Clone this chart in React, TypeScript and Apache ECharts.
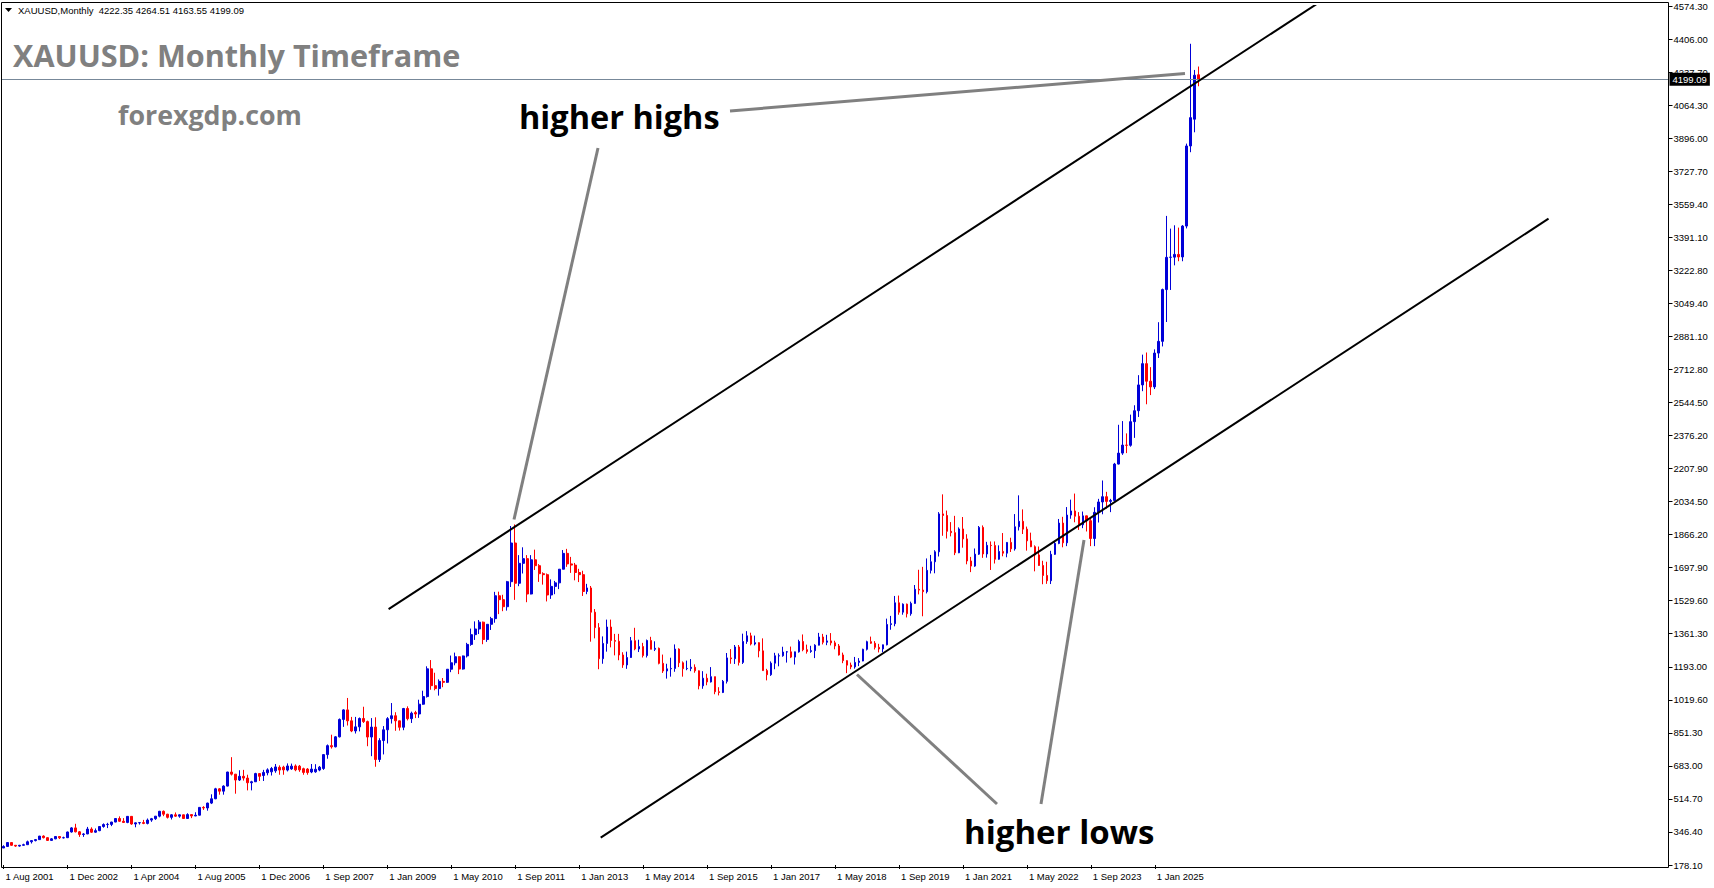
import React, { useEffect, useRef } from "react";
import * as echarts from "echarts";

// ---- axis tick labels ----
const xTickLabels = [
  "1 Aug 2001", "1 Dec 2002", "1 Apr 2004", "1 Aug 2005", "1 Dec 2006", "1 Sep 2007",
  "1 Jan 2009", "1 May 2010", "1 Sep 2011", "1 Jan 2013", "1 May 2014", "1 Sep 2015",
  "1 Jan 2017", "1 May 2018", "1 Sep 2019", "1 Jan 2021", "1 May 2022", "1 Sep 2023", "1 Jan 2025",
];
const X_LABEL_STEP = 16;
const yTickLabels = [
  "178.10", "346.40", "514.70", "683.00", "851.30", "1019.60", "1193.00", "1361.30", "1529.60",
  "1697.90", "1866.20", "2034.50", "2207.90", "2376.20", "2544.50", "2712.80", "2881.10", "3049.40",
  "3222.80", "3391.10", "3559.40", "3727.70", "3896.00", "4064.30", "4237.70", "4406.00", "4574.30",
];
const Y_MIN = 178.1;
const Y_MAX = 4574.3;
const TOTAL_SLOTS = 417; // bars + empty space to the right

// ---- monthly candles [open, high, low, close] ----
const candles2001to2006 = [
  [265, 279, 265, 273], [273, 294, 271, 293], [293, 293, 276, 279], [279, 280, 271, 275], [275, 281, 272, 279],
  [279, 287, 277, 282], [282, 303, 281, 297], [297, 305, 288, 303], [303, 311, 299, 308], [308, 327, 307, 326], [326, 330, 314, 318],
  [318, 320, 301, 304], [304, 316, 302, 312], [312, 325, 310, 324], [324, 324, 311, 317], [317, 323, 314, 318], [318, 349, 316, 347],
  [347, 372, 344, 368], [368, 389, 345, 348], [348, 352, 322, 334], [334, 341, 322, 337], [337, 373, 336, 362], [362, 371, 342, 346],
  [346, 365, 343, 354], [354, 376, 351, 375], [375, 391, 369, 385], [385, 394, 367, 386], [386, 399, 377, 398], [398, 417, 397, 416],
  [416, 427, 399, 402], [402, 418, 393, 396], [396, 428, 392, 427], [427, 428, 384, 388], [388, 396, 371, 394], [394, 398, 385, 395],
  [395, 409, 387, 391], [391, 416, 386, 408], [408, 419, 399, 415], [415, 429, 409, 428], [428, 455, 422, 453], [453, 457, 428, 438],
  [438, 440, 416, 422], [422, 439, 411, 435], [435, 447, 424, 428], [428, 437, 420, 435], [435, 436, 414, 416], [416, 443, 414, 436],
  [436, 438, 418, 429], [429, 448, 428, 433], [433, 474, 432, 473], [473, 479, 460, 470], [470, 497, 456, 495], [495, 540, 490, 517],
  [517, 573, 515, 568], [568, 572, 538, 556], [556, 586, 538, 582], [582, 655, 580, 654], [654, 730, 636, 643], [643, 644, 543, 613],
  [613, 663, 608, 632], [632, 665, 610, 623], [623, 640, 560, 599], [599, 609, 560, 604], [604, 650, 603, 646], [646, 649, 608, 632],
];
const candles2007a = [
  [636, 665, 608, 652], [650, 673, 637, 665], [655, 680, 636, 672], [660, 695, 650, 680], [678, 688, 640, 664],
  [679, 686, 640, 665], [664, 698, 657, 685], [670, 697, 665, 684], [685, 693, 658, 665], [684, 690, 655, 665],
  [671, 676, 640, 652], [669, 674, 640, 651], [654, 695, 648, 669], [655, 694, 650, 668], [664, 685, 658, 679],
];
const candles2007to2015 = [
  [672, 745, 665, 743], [743, 795, 722, 789], [789, 845, 774, 783], [783, 838, 780, 834],
  [834, 928, 831, 923], [923, 975, 885, 972], [972, 1033, 892, 916], [916, 936, 858, 864], [864, 936, 851, 885], [885, 933, 862, 928],
  [928, 988, 905, 912], [912, 917, 786, 833], [833, 930, 735, 884], [884, 934, 681, 718], [718, 827, 705, 815], [815, 889, 744, 870],
  [870, 935, 800, 927], [927, 1007, 902, 942], [942, 960, 865, 916], [916, 917, 866, 883], [883, 982, 868, 979], [979, 990, 918, 927],
  [927, 963, 905, 955], [958, 967, 930, 951], [951, 1024, 931, 1001], [1001, 1070, 998, 1040], [1040, 1195, 1035, 1182], [1182, 1227, 1075, 1096],
  [1096, 1162, 1072, 1081], [1081, 1128, 1045, 1118], [1118, 1135, 1088, 1113], [1113, 1181, 1110, 1180], [1180, 1250, 1165, 1213], [1213, 1265, 1200, 1244],
  [1244, 1246, 1155, 1181], [1181, 1250, 1178, 1248], [1248, 1315, 1240, 1307], [1307, 1388, 1300, 1357], [1357, 1425, 1330, 1386], [1386, 1432, 1360, 1421],
  [1421, 1424, 1308, 1332], [1332, 1411, 1320, 1410], [1410, 1448, 1381, 1439], [1439, 1576, 1418, 1556], [1556, 1577, 1462, 1536], [1536, 1561, 1477, 1500],
  [1500, 1632, 1480, 1628], [1628, 1913, 1601, 1826], [1826, 1921, 1535, 1620], [1620, 1764, 1605, 1722], [1722, 1804, 1670, 1746], [1746, 1764, 1523, 1565],
  [1565, 1764, 1563, 1740], [1740, 1792, 1688, 1710], [1710, 1718, 1627, 1669], [1669, 1676, 1613, 1664], [1664, 1670, 1527, 1560], [1560, 1640, 1540, 1604],
  [1604, 1632, 1564, 1622], [1622, 1693, 1590, 1692], [1692, 1790, 1691, 1773], [1773, 1796, 1704, 1719], [1719, 1755, 1673, 1713], [1713, 1724, 1635, 1675],
  [1675, 1694, 1626, 1664], [1664, 1684, 1555, 1578], [1578, 1617, 1564, 1596], [1596, 1606, 1321, 1472], [1472, 1488, 1338, 1393], [1393, 1416, 1180, 1234],
  [1234, 1348, 1208, 1312], [1312, 1434, 1270, 1396], [1396, 1434, 1292, 1327], [1327, 1361, 1251, 1323], [1323, 1361, 1226, 1253], [1253, 1267, 1187, 1202],
  [1202, 1270, 1182, 1240], [1240, 1345, 1238, 1326], [1326, 1392, 1277, 1284], [1284, 1331, 1268, 1296], [1296, 1315, 1240, 1250], [1250, 1332, 1240, 1327],
  [1327, 1346, 1282, 1282], [1282, 1323, 1273, 1287], [1287, 1291, 1205, 1210], [1210, 1255, 1161, 1171], [1171, 1208, 1132, 1182], [1182, 1239, 1142, 1184],
  [1184, 1307, 1167, 1283], [1283, 1287, 1191, 1213], [1213, 1220, 1142, 1183], [1183, 1224, 1175, 1184], [1184, 1232, 1170, 1190], [1190, 1205, 1162, 1172],
  [1172, 1174, 1077, 1095], [1095, 1170, 1080, 1134], [1134, 1157, 1098, 1115], [1115, 1191, 1112, 1142], [1142, 1142, 1052, 1065], [1065, 1088, 1046, 1061],
];
const candles2016to2025 = [
  [1061, 1125, 1058, 1118], [1118, 1263, 1107, 1238], [1238, 1283, 1208, 1234], [1234, 1304, 1207, 1294], [1294, 1304, 1199, 1215], [1215, 1362, 1207, 1322],
  [1322, 1375, 1310, 1351], [1351, 1367, 1302, 1309], [1309, 1352, 1302, 1316], [1316, 1318, 1241, 1274], [1274, 1338, 1171, 1173], [1173, 1182, 1123, 1152],
  [1152, 1220, 1146, 1211], [1211, 1264, 1180, 1249], [1248, 1261, 1195, 1249], [1249, 1295, 1244, 1268], [1268, 1273, 1214, 1269], [1269, 1296, 1237, 1242],
  [1242, 1270, 1204, 1269], [1269, 1331, 1265, 1322], [1322, 1358, 1272, 1280], [1280, 1306, 1260, 1271], [1271, 1300, 1264, 1275], [1275, 1308, 1237, 1303],
  [1303, 1366, 1302, 1345], [1345, 1361, 1307, 1318], [1318, 1356, 1303, 1325], [1325, 1365, 1302, 1315], [1315, 1326, 1282, 1299], [1299, 1309, 1250, 1253],
  [1253, 1265, 1211, 1224], [1224, 1226, 1160, 1201], [1201, 1214, 1180, 1192], [1192, 1243, 1183, 1215], [1215, 1237, 1196, 1222], [1222, 1285, 1221, 1282],
  [1282, 1326, 1276, 1321], [1321, 1347, 1310, 1313], [1313, 1324, 1281, 1292], [1292, 1310, 1266, 1284], [1284, 1306, 1267, 1305], [1305, 1439, 1302, 1409],
  [1409, 1453, 1382, 1413], [1413, 1555, 1400, 1520], [1520, 1557, 1459, 1472], [1472, 1517, 1459, 1513], [1513, 1516, 1445, 1464], [1464, 1526, 1454, 1517],
  [1517, 1611, 1515, 1589], [1589, 1689, 1563, 1585], [1585, 1704, 1451, 1577], [1577, 1747, 1568, 1686], [1686, 1765, 1670, 1730], [1730, 1789, 1671, 1781],
  [1781, 1984, 1757, 1975], [1975, 2075, 1863, 1967], [1967, 1992, 1849, 1886], [1886, 1933, 1860, 1879], [1879, 1965, 1764, 1776], [1776, 1906, 1774, 1898],
  [1898, 1959, 1802, 1847], [1847, 1871, 1717, 1734], [1734, 1755, 1677, 1708], [1708, 1798, 1704, 1769], [1769, 1913, 1765, 1906], [1906, 1916, 1750, 1770],
  [1770, 1832, 1751, 1814], [1814, 1834, 1688, 1813], [1813, 1834, 1721, 1743], [1743, 1814, 1740, 1783], [1783, 1877, 1758, 1774], [1774, 1831, 1753, 1829],
  [1829, 1853, 1780, 1796], [1796, 1974, 1787, 1909], [1909, 2070, 1890, 1937], [1937, 1998, 1872, 1897], [1897, 1910, 1787, 1837], [1837, 1879, 1805, 1807],
  [1807, 1814, 1681, 1765], [1765, 1808, 1709, 1711], [1711, 1735, 1615, 1660], [1660, 1730, 1617, 1633], [1633, 1786, 1616, 1768], [1768, 1833, 1765, 1824],
  [1824, 1949, 1820, 1928], [1928, 1960, 1804, 1827], [1827, 2010, 1810, 1969], [1969, 2048, 1950, 1990], [1990, 2079, 1932, 1963], [1963, 1984, 1893, 1919],
  [1919, 1987, 1902, 1965], [1965, 1966, 1885, 1940], [1940, 1953, 1810, 1849], [1849, 2009, 1810, 1983], [1983, 2052, 1931, 2036], [2036, 2146, 1973, 2063],
  [2063, 2088, 2002, 2039], [2039, 2052, 1984, 2044], [2044, 2236, 2038, 2230], [2230, 2431, 2228, 2286], [2286, 2450, 2277, 2327], [2327, 2387, 2286, 2326],
  [2326, 2483, 2319, 2447], [2447, 2531, 2364, 2503], [2503, 2685, 2471, 2635], [2635, 2790, 2603, 2744], [2744, 2801, 2536, 2654], [2654, 2726, 2583, 2625],
  [2625, 2817, 2614, 2798], [2798, 2956, 2773, 2858], [2858, 3128, 2832, 3123], [3123, 3500, 2957, 3288], [3288, 3435, 3121, 3289], [3289, 3452, 3247, 3303],
  [3303, 3440, 3268, 3290], [3290, 3453, 3268, 3448], [3448, 3870, 3436, 3858], [3858, 4381, 3826, 4003], [3995, 4247, 3928, 4220], [4222.35, 4264.51, 4163.55, 4199.09],
];

// ---- channel lines [barIndex, price] ----
const upperChannel = [[96.33, 1487.7], [328.77, 4588.1]];
const lowerChannel = [[149.39, 317.8], [386.49, 3485.7]];

const lastPrice = 4199.09;
const headerText = "XAUUSD,Monthly\u00a0 4222.35 4264.51 4163.55 4199.09";

const BLUE = "#0000d8";
const RED = "#ff0000";
const AXIS_FONT = "'Liberation Sans', Arial, sans-serif";
const TEXT_FONT = "'Open Sans', 'Noto Sans', sans-serif";

export default function App() {
  const ref = useRef<HTMLDivElement>(null);

  useEffect(() => {
    if (!ref.current) return;
    const chart = echarts.init(ref.current, undefined, { renderer: "svg" });

    const allCandles = [...candles2001to2006, ...candles2007a, ...candles2007to2015, ...candles2016to2025];
    const seriesData = allCandles.map(([o, h, l, c]) => [o, c, l, h]);
    const categories = Array.from({ length: TOTAL_SLOTS }, (_, i) => String(i));
    const showX = (i: number) => i % X_LABEL_STEP === 0 && i / X_LABEL_STEP < xTickLabels.length;

    const grayLine = (x1: number, y1: number, x2: number, y2: number) => ({
      type: "line",
      z: 20,
      silent: true,
      shape: { x1, y1, x2, y2 },
      style: { stroke: "#808080", lineWidth: 3 },
    });
    const txt = (text: string, x: number, y: number, size: number, fill: string, weight = "bold", family = TEXT_FONT) => ({
      type: "text",
      z: 20,
      silent: true,
      x,
      y,
      style: {
        text,
        fill,
        fontSize: size,
        fontWeight: weight,
        fontFamily: family,
        align: "left",
        verticalAlign: "middle",
        textAlign: "left",
        textVerticalAlign: "middle",
      },
    });

    chart.setOption({
      animation: false,
      backgroundColor: "#ffffff",
      grid: { left: 1.5, top: 6, width: 1667, height: 859, containLabel: false },
      xAxis: [
        {
          type: "category",
          data: categories,
          boundaryGap: true,
          offset: 2,
          axisLine: { show: false },
          axisTick: {
            show: true,
            alignWithLabel: true,
            interval: (i: number) => showX(i),
            length: 4,
            lineStyle: { color: "#000" },
          },
          axisLabel: {
            interval: (i: number) => showX(i),
            formatter: (_v: string, i: number) => (showX(i) ? xTickLabels[i / X_LABEL_STEP] : ""),
            align: "left",
            margin: 4,
            padding: [0, 0, 0, 2],
            fontSize: 9.5,
            fontFamily: AXIS_FONT,
            color: "#000",
          },
          splitLine: { show: false },
        },
        { type: "value", min: -0.5, max: TOTAL_SLOTS - 0.5, show: false },
      ],
      yAxis: [
        { type: "value", min: Y_MIN, max: Y_MAX, show: false, position: "left", splitLine: { show: false } },
        {
          type: "value",
          min: 0,
          max: yTickLabels.length - 1,
          interval: 1,
          position: "right",
          axisLine: { show: false },
          axisTick: { show: true, length: 4, lineStyle: { color: "#000" } },
          axisLabel: {
            formatter: (v: number) => yTickLabels[Math.round(v)] ?? "",
            fontSize: 9.5,
            fontFamily: AXIS_FONT,
            color: "#000",
            margin: 5,
          },
          splitLine: { show: false },
        },
      ],
      series: [
        {
          type: "candlestick",
          xAxisIndex: 0,
          yAxisIndex: 0,
          data: seriesData,
          barWidth: 2.2,
          silent: true,
          itemStyle: {
            color: BLUE,
            color0: RED,
            borderColor: BLUE,
            borderColor0: RED,
            borderWidth: 1,
          },
          markLine: {
            silent: true,
            symbol: ["none", "none"],
            animation: false,
            lineStyle: { color: "#778899", width: 1, type: "solid" },
            label: {
              show: true,
              position: "end",
              distance: 1,
              formatter: lastPrice.toFixed(2),
              backgroundColor: "#000",
              color: "#fff",
              padding: [2, 3, 1, 3],
              fontSize: 9.5,
              fontFamily: AXIS_FONT,
            },
            data: [{ yAxis: lastPrice }],
          },
        },
        {
          type: "line",
          xAxisIndex: 1,
          yAxisIndex: 0,
          data: upperChannel,
          symbol: "none",
          silent: true,
          clip: true,
          z: 5,
          lineStyle: { color: "#000", width: 2 },
        },
        {
          type: "line",
          xAxisIndex: 1,
          yAxisIndex: 0,
          data: lowerChannel,
          symbol: "none",
          silent: true,
          clip: true,
          z: 5,
          lineStyle: { color: "#000", width: 2 },
        },
      ],
      graphic: [
        {
          type: "rect",
          z: 30,
          silent: true,
          shape: { x: 1.5, y: 2.5, width: 1667, height: 865 },
          style: { fill: "none", stroke: "#000", lineWidth: 1 },
        },
        {
          type: "polygon",
          z: 20,
          silent: true,
          shape: { points: [[5, 8], [12, 8], [8.5, 12]] },
          style: { fill: "#000" },
        },
        txt(headerText, 18, 10, 9.5, "#000", "normal", AXIS_FONT),
        txt("XAUUSD: Monthly Timeframe", 13, 55, 30.6, "#808080"),
        txt("forexgdp.com", 118, 114, 26.8, "#808080"),
        txt("higher highs", 519, 116.5, 32.5, "#000"),
        txt("higher lows", 964, 831, 33, "#000"),
        grayLine(730, 111, 1185, 73.5),
        grayLine(598, 148, 514, 519.5),
        grayLine(857, 674.5, 997, 804),
        grayLine(1084, 540, 1041, 804),
      ],
    });

    return () => chart.dispose();
  }, []);

  return (
    <div
      ref={ref}
      style={{ position: "absolute", left: 0, top: 0, width: 1714, height: 888, background: "#fff" }}
    />
  );
}
